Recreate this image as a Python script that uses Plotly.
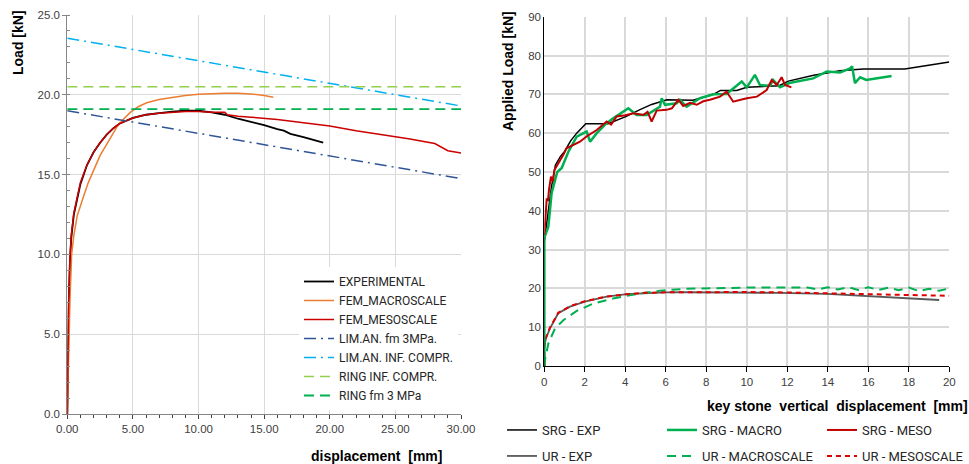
import plotly.graph_objects as go

# ---------------- left panel: load vs displacement ----------------
exp_x = [0, 0.05, 0.1, 0.2, 0.3, 0.5, 0.75, 1.0, 1.5, 2.0, 2.5, 3.0, 3.5, 4.0, 5.0, 6.0, 7.0, 8.0,
         9.0, 10.0, 11.0, 12.0, 13.0, 14.0, 15.0, 16.0, 16.5, 17.0, 18.0, 19.5]
exp_y = [0, 3.5, 6.5, 9.5, 11.0, 12.5, 13.5, 14.4, 15.6, 16.4, 17.0, 17.5, 17.9, 18.2, 18.55, 18.75,
         18.85, 18.95, 19.0, 19.0, 18.9, 18.75, 18.5, 18.3, 18.1, 17.85, 17.75, 17.55, 17.35, 17.0]

macro_x = [0, 0.05, 0.1, 0.2, 0.33, 0.5, 0.75, 1.0, 1.22, 1.6, 2.0, 2.5, 3.0, 3.5, 3.76, 4.2, 4.8,
           5.4, 6.05, 7.0, 8.3, 9.0, 10.0, 11.0, 12.0, 13.0, 14.0, 15.0, 15.7]
macro_y = [0, 2.0, 4.0, 7.0, 10.0, 11.2, 12.4, 13.1, 13.6, 14.5, 15.3, 16.2, 16.9, 17.6, 17.96, 18.4,
           18.9, 19.25, 19.5, 19.7, 19.88, 19.95, 20.03, 20.08, 20.1, 20.1, 20.05, 19.95, 19.85]

meso_x = [0, 0.05, 0.1, 0.2, 0.3, 0.5, 0.75, 1.0, 1.5, 2.0, 2.5, 3.0, 3.5, 4.0, 5.0, 6.0, 7.0, 8.0,
          9.0, 10.0, 11.0, 12.0, 12.2, 13.0, 14.0, 16.0, 18.0, 20.0, 22.0, 24.0, 26.0, 28.0, 28.5,
          29.0, 30.0]
meso_y = [0, 4.0, 7.0, 9.8, 11.2, 12.6, 13.6, 14.5, 15.6, 16.4, 17.0, 17.5, 17.9, 18.2, 18.55, 18.75,
          18.85, 18.9, 18.95, 18.95, 18.9, 18.9, 18.75, 18.65, 18.6, 18.45, 18.25, 18.05, 17.75, 17.5,
          17.25, 16.95, 16.7, 16.5, 16.35]

lim_x = [0, 30]
lim_fm3_y = [19.0, 14.75]
lim_inf_y = [23.55, 19.3]
ring_inf_y = [20.5, 20.5]
ring_fm3_y = [19.1, 19.1]

left_xticks = [0, 5, 10, 15, 20, 25, 30]
left_xlabels = ["0.00", "5.00", "10.00", "15.00", "20.00", "25.00", "30.00"]
left_yticks = [0, 5, 10, 15, 20, 25]
left_ylabels = ["0.0", "5.0", "10.0", "15.0", "20.0", "25.0"]

# ---------------- right panel: applied load vs key stone displacement ----------------
srg_exp_x = [0, 0, 0.05, 0.2, 0.35, 0.55, 0.8, 1.0, 1.15, 1.3, 1.6, 2.05, 3.15, 4.05, 4.7, 5.3,
             6.05, 7.35, 8.35, 8.7, 9.5, 10.0, 11.6, 12.05, 13.3, 14.6, 15.75, 17.8, 20.0]
srg_exp_y = [0, 32, 34, 40.5, 46, 51.8, 54, 55.3, 56.5, 58, 60, 62.4, 62.4, 64.3, 66, 67.4,
             68.6, 68.5, 70, 71, 71, 71.8, 72.2, 73.4, 74.9, 76.1, 76.5, 76.5, 78.3]

srg_macro_x = [0, 0, 0.2, 0.36, 0.64, 0.86, 1.19, 1.6, 2.09, 2.26, 2.59, 3.0, 3.4, 3.8, 4.15, 4.56,
               5.06, 5.71, 5.8, 5.96, 6.54, 6.7, 7.03, 7.69, 8.35, 9.0, 9.5, 9.75, 10.0, 10.4, 10.65,
               11.15, 11.3, 11.64, 12.1, 12.7, 13.28, 13.95, 14.6, 15.1, 15.2, 15.34, 15.6, 15.9,
               16.25, 16.7, 17.15]
srg_macro_y = [0, 33, 35.9, 44.5, 50, 51, 55.2, 59.1, 60.4, 57.8, 60, 62.2, 63.8, 65.2, 66.4, 64.7,
               64.7, 66.8, 69, 67.3, 67.7, 68.6, 66.8, 69, 70, 70.1, 72.4, 73.3, 71.8, 75, 72.4,
               72.2, 73.7, 71.8, 72.9, 73.5, 74.1, 75.9, 75.6, 76.7, 77.2, 72.9, 74.4, 73.7,
               74.0, 74.2, 74.7]

srg_meso_x = [0, 0.06, 0.12, 0.18, 0.23, 0.33, 0.42, 0.5, 0.62, 0.75, 0.94, 1.1, 1.4, 1.76, 2.1,
              2.59, 3.08, 3.3, 3.57, 4.0, 4.4, 4.9, 5.1, 5.3, 5.55, 6.04, 6.3, 6.62, 6.86, 7.2,
              7.53, 7.85, 8.18, 8.68, 9.0, 9.33, 9.7, 10.0, 10.5, 10.98, 11.23, 11.48, 11.72,
              11.89, 12.2]
srg_meso_y = [33.8, 40, 43.2, 42.5, 45.4, 48.8, 47.5, 50.5, 51.5, 52.5, 54.4, 56.1, 56.8, 57.8, 59.2,
              60.8, 63, 62.2, 64.3, 64.6, 65.1, 64.7, 65.5, 63, 65.8, 66, 66.4, 68.6, 67, 67.8,
              67.3, 68.2, 68.6, 69.4, 70.7, 68.1, 68.6, 69, 69.4, 71.1, 73.7, 72.4, 74.4,
              72.4, 71.8]

ur_exp_x = [0, 0, 0.08, 0.28, 0.69, 1.27, 2.0, 3.08, 4.07, 5.0, 6.0, 7.0, 8.0, 9.0, 10.0, 11.6,
            13.95, 16.25, 19.5]
ur_exp_y = [0, 5, 7.1, 9.7, 13.6, 15.3, 16.6, 17.9, 18.5, 18.8, 18.95, 19.0, 19.0, 19.0, 18.95,
            18.85, 18.6, 18.0, 17.0]

ur_macro_x = [0, 0.03, 0.2, 0.53, 0.94, 1.6, 2.42, 3.4, 4.73, 5.71, 7.0, 8.5, 10.0, 12.0, 13.0,
              13.5, 14.0, 14.5, 15.0, 15.5, 16.0, 16.5, 17.0, 17.5, 18.0, 18.5, 19.0, 19.5, 20.0]
ur_macro_y = [0, 1.5, 5.8, 9.7, 11.8, 14.2, 16.1, 17.4, 18.7, 19.4, 19.9, 20.1, 20.2, 20.2, 20.2,
              19.7, 20.3, 19.7, 20.3, 19.6, 20.3, 19.6, 20.2, 19.5, 20.2, 19.3, 19.9, 19.4, 20.0]

ur_meso_x = [0, 0, 0.08, 0.28, 0.69, 1.27, 2.0, 3.08, 4.07, 5.0, 6.0, 8.0, 10.0, 12.0, 14.0, 16.0,
             18.0, 20.0]
ur_meso_y = [0, 5, 7.3, 9.9, 13.7, 15.4, 16.7, 17.9, 18.5, 18.85, 19.0, 19.1, 19.05, 18.95, 18.8,
             18.5, 18.3, 18.1]

right_xticks = [0, 2, 4, 6, 8, 10, 12, 14, 16, 18, 20]
right_yticks = [0, 10, 20, 30, 40, 50, 60, 70, 80, 90]

W, H = 969, 464
TICK_FONT = dict(family="Liberation Sans, Arial", size=11.5, color="#404040")
LEG_FONT = dict(family="Roboto, Liberation Sans, Arial", size=12, color="#262626")
LEG_FONT_R = dict(family="Roboto, Liberation Sans, Arial", size=13, color="#262626")
TITLE_FONT = dict(family="Liberation Sans, Arial", size=14, color="#000000")
GRID = "#D9D9D9"

fig = go.Figure()

# left panel traces
left = [
    (exp_x, exp_y, "EXPERIMENTAL", "#000000", 1.8, "solid"),
    (macro_x, macro_y, "FEM_MACROSCALE", "#ED7D31", 1.5, "solid"),
    (meso_x, meso_y, "FEM_MESOSCALE", "#CC0000", 1.5, "solid"),
    (lim_x, lim_fm3_y, "LIM.AN. fm 3MPa.", "#2F5597", 1.5, "12px,5px,2px,5px"),
    (lim_x, lim_inf_y, "LIM.AN. INF. COMPR.", "#00B0F0", 1.5, "12px,5px,2px,5px"),
    (lim_x, ring_inf_y, "RING INF. COMPR.", "#92D050", 1.5, "10px,6px"),
    (lim_x, ring_fm3_y, "RING fm 3 MPa", "#00B050", 1.8, "10px,6px"),
]
for xs, ys, name, col, w, dash in left:
    fig.add_trace(go.Scatter(x=xs, y=ys, name=name, mode="lines",
                             line=dict(color=col, width=w, dash=dash),
                             xaxis="x", yaxis="y", legend="legend"))

# right panel traces
right_srg = [
    (srg_exp_x, srg_exp_y, "SRG - EXP", "#000000", 1.5, "solid"),
    (srg_macro_x, srg_macro_y, "SRG - MACRO", "#00B050", 2.5, "solid"),
    (srg_meso_x, srg_meso_y, "SRG - MESO", "#C00000", 2.0, "solid"),
]
right_ur = [
    (ur_exp_x, ur_exp_y, "UR - EXP", "#595959", 1.8, "solid"),
    (ur_macro_x, ur_macro_y, "UR - MACROSCALE", "#00B050", 2.0, "9px,6px"),
    (ur_meso_x, ur_meso_y, "UR - MESOSCALE", "#E00000", 2.0, "5px,4px"),
]
for grp, leg in ((right_ur, "legend3"), (right_srg, "legend2")):
    for xs, ys, name, col, w, dash in grp:
        fig.add_trace(go.Scatter(x=xs, y=ys, name=name, mode="lines",
                                 line=dict(color=col, width=w, dash=dash),
                                 xaxis="x2", yaxis="y2", legend=leg))

# panel geometry in pixels
L_x0, L_x1, L_yt, L_yb = 67.3, 461.0, 15.0, 414.0
R_x0, R_x1, R_yt, R_yb = 544.3, 949.3, 16.7, 366.0

fig.update_layout(
    width=W, height=H,
    margin=dict(l=0, r=0, t=0, b=0, autoexpand=False),
    paper_bgcolor="white", plot_bgcolor="white",
    xaxis=dict(domain=[L_x0 / W, L_x1 / W], range=[0, 30], tickvals=left_xticks,
               ticktext=left_xlabels, showgrid=True, gridcolor=GRID, gridwidth=1,
               showline=True, linecolor="#868686", linewidth=1, ticks="outside", ticklen=4,
               tickcolor="#404040", tickfont=TICK_FONT, zeroline=False,
               minor=dict(dtick=1, ticks="outside", ticklen=3, tickcolor="#404040", showgrid=False),
               anchor="y"),
    yaxis=dict(domain=[1 - L_yb / H, 1 - L_yt / H], range=[0, 25], tickvals=left_yticks,
               ticktext=left_ylabels, showgrid=True, gridcolor=GRID, gridwidth=1,
               showline=True, linecolor="#868686", linewidth=1, ticks="outside", ticklen=4,
               tickcolor="#868686", tickfont=TICK_FONT, zeroline=False,
               minor=dict(dtick=1, ticks="inside", ticklen=3, tickcolor="#868686", showgrid=False),
               anchor="x"),
    xaxis2=dict(domain=[R_x0 / W, R_x1 / W], range=[0, 20], tickvals=right_xticks,
                showgrid=True, gridcolor=GRID, gridwidth=1.5, showline=True, linecolor="#000000",
                linewidth=1, ticks="outside", ticklen=5, tickcolor="#000000", tickfont=TICK_FONT,
                zeroline=False, anchor="y2"),
    yaxis2=dict(domain=[1 - R_yb / H, 1 - R_yt / H], range=[0, 90], tickvals=right_yticks,
                showgrid=True, gridcolor=GRID, gridwidth=1.5, showline=True, linecolor="#000000",
                linewidth=1, ticks="", tickfont=TICK_FONT, zeroline=False, anchor="x2"),
    legend=dict(x=299 / W, y=1 - 267 / H, xanchor="left", yanchor="top", bgcolor="white",
                font=LEG_FONT, tracegroupgap=0, itemwidth=30, borderwidth=0),
    legend2=dict(x=502 / W, y=1 - 415 / H, xanchor="left", yanchor="top", orientation="h",
                 font=LEG_FONT_R, entrywidth=115, entrywidthmode="pixels", itemwidth=30,
                 bgcolor="rgba(0,0,0,0)"),
    legend3=dict(x=502 / W, y=1 - 441 / H, xanchor="left", yanchor="top", orientation="h",
                 font=LEG_FONT_R, entrywidth=115, entrywidthmode="pixels", itemwidth=30,
                 traceorder="normal", bgcolor="rgba(0,0,0,0)"),
    showlegend=True,
)

# axis titles
ann = dict(xref="paper", yref="paper", showarrow=False, font=TITLE_FONT,
           xanchor="center", yanchor="middle")
fig.add_annotation(text="<b>Load [kN]</b>", x=18 / W, y=1 - 43 / H, textangle=-90, **ann)
fig.add_annotation(text="<b>Applied Load [kN]</b>", x=508 / W, y=1 - 71 / H, textangle=-90, **ann)
fig.add_annotation(text="<b>displacement  [mm]</b>", x=376 / W, y=1 - 456 / H, **ann)
fig.add_annotation(text="<b>key stone  vertical  displacement  [mm]</b>", x=837 / W,
                   y=1 - 406 / H, **ann)

fig.write_html("out.html")
